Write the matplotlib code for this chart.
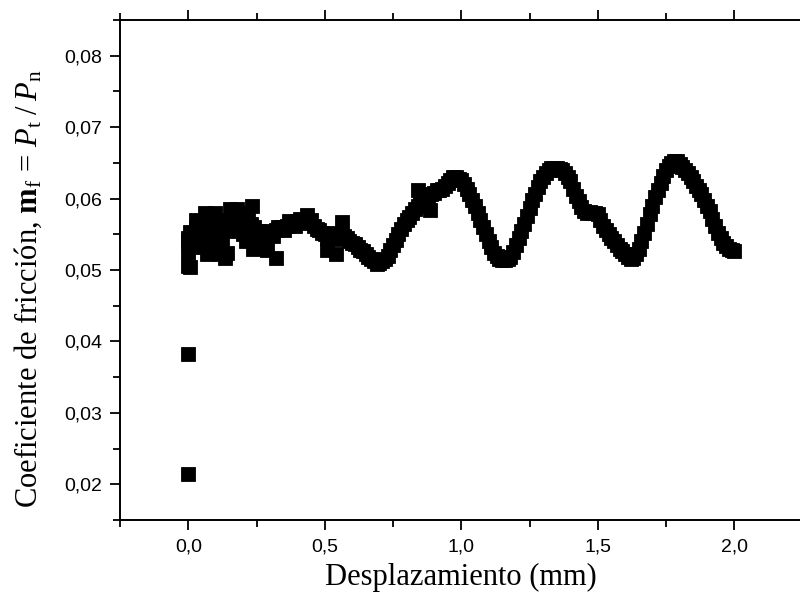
import numpy as np
import matplotlib
matplotlib.use("Agg")
import matplotlib.pyplot as plt
from matplotlib.ticker import MultipleLocator, FuncFormatter

plt.rcParams['font.family'] = 'Liberation Sans'
plt.rcParams['mathtext.fontset'] = 'custom'
plt.rcParams['mathtext.rm'] = 'Liberation Serif'
plt.rcParams['mathtext.it'] = 'Liberation Serif:italic'
plt.rcParams['mathtext.bf'] = 'Liberation Serif:bold'

# friction coefficient vs displacement (even hundredths)
desplazamiento = [
    0.00, 0.02, 0.04, 0.06, 0.08, 0.10, 0.12, 0.14, 0.16, 0.18,
    0.20, 0.22, 0.24, 0.26, 0.28, 0.30, 0.32, 0.34, 0.36, 0.38,
    0.40, 0.42, 0.44, 0.46, 0.48, 0.50, 0.52, 0.54, 0.56, 0.58,
    0.60, 0.62, 0.64, 0.66, 0.68, 0.70, 0.72, 0.74, 0.76, 0.78,
    0.80, 0.82, 0.84, 0.86, 0.88, 0.90, 0.92, 0.94, 0.96, 0.98,
    1.00, 1.02, 1.04, 1.06, 1.08, 1.10, 1.12, 1.14, 1.16, 1.18,
    1.20, 1.22, 1.24, 1.26, 1.28, 1.30, 1.32, 1.34, 1.36, 1.38,
    1.40, 1.42, 1.44, 1.46, 1.48, 1.50, 1.52, 1.54, 1.56, 1.58,
    1.60, 1.62, 1.64, 1.66, 1.68, 1.70, 1.72, 1.74, 1.76, 1.78,
    1.80, 1.82, 1.84, 1.86, 1.88, 1.90, 1.92, 1.94, 1.96, 1.98,
    2.00,
]
coef = [
    0.0540, 0.0550, 0.0555, 0.0548, 0.0560, 0.0552, 0.0562, 0.0558, 0.0565, 0.0568,
    0.0575, 0.0570, 0.0560, 0.0555, 0.0545, 0.0552, 0.0556, 0.0560, 0.0562, 0.0566,
    0.0568, 0.0570, 0.0568, 0.0562, 0.0556, 0.0550, 0.0548, 0.0548, 0.0550, 0.0545,
    0.0538, 0.0532, 0.0526, 0.0518, 0.0512, 0.0510, 0.0515, 0.0528, 0.0542, 0.0558,
    0.0570, 0.0580, 0.0590, 0.0598, 0.0604, 0.0608, 0.0612, 0.0618, 0.0626, 0.0630,
    0.0626, 0.0614, 0.0598, 0.0580, 0.0560, 0.0540, 0.0524, 0.0516, 0.0514, 0.0518,
    0.0535, 0.0555, 0.0576, 0.0598, 0.0616, 0.0630, 0.0640, 0.0643, 0.0642, 0.0636,
    0.0624, 0.0604, 0.0588, 0.0580, 0.0580, 0.0578, 0.0562, 0.0550, 0.0540, 0.0530,
    0.0522, 0.0516, 0.0522, 0.0540, 0.0565, 0.0590, 0.0612, 0.0632, 0.0646, 0.0652,
    0.0648, 0.0640, 0.0630, 0.0618, 0.0606, 0.0590, 0.0572, 0.0552, 0.0538, 0.0530,
    0.0527,
]

# odd hundredths
desplazamiento_b = [
    0.01, 0.03, 0.05, 0.07, 0.09, 0.11, 0.13, 0.15, 0.17, 0.19,
    0.21, 0.23, 0.25, 0.27, 0.29, 0.31, 0.33, 0.35, 0.37, 0.39,
    0.41, 0.43, 0.45, 0.47, 0.49, 0.51, 0.53, 0.55, 0.57, 0.59,
    0.61, 0.63, 0.65, 0.67, 0.69, 0.71, 0.73, 0.75, 0.77, 0.79,
    0.81, 0.83, 0.85, 0.87, 0.89, 0.91, 0.93, 0.95, 0.97, 0.99,
    1.01, 1.03, 1.05, 1.07, 1.09, 1.11, 1.13, 1.15, 1.17, 1.19,
    1.21, 1.23, 1.25, 1.27, 1.29, 1.31, 1.33, 1.35, 1.37, 1.39,
    1.41, 1.43, 1.45, 1.47, 1.49, 1.51, 1.53, 1.55, 1.57, 1.59,
    1.61, 1.63, 1.65, 1.67, 1.69, 1.71, 1.73, 1.75, 1.77, 1.79,
    1.81, 1.83, 1.85, 1.87, 1.89, 1.91, 1.93, 1.95, 1.97, 1.99,
]
coef_b = [
    0.0535, 0.0560, 0.0545, 0.0555, 0.0565, 0.0548, 0.0570, 0.0555, 0.0572, 0.0562,
    0.0580, 0.0565, 0.0555, 0.0548, 0.0555, 0.0548, 0.0560, 0.0556, 0.0568, 0.0562,
    0.0572, 0.0566, 0.0570, 0.0558, 0.0552, 0.0545, 0.0552, 0.0544, 0.0548, 0.0540,
    0.0536, 0.0528, 0.0522, 0.0515, 0.0508, 0.0512, 0.0520, 0.0535, 0.0550, 0.0565,
    0.0574, 0.0586, 0.0594, 0.0600, 0.0606, 0.0612, 0.0614, 0.0622, 0.0630, 0.0628,
    0.0620, 0.0606, 0.0590, 0.0570, 0.0550, 0.0532, 0.0520, 0.0514, 0.0515, 0.0525,
    0.0545, 0.0565, 0.0587, 0.0607, 0.0624, 0.0636, 0.0643, 0.0643, 0.0640, 0.0630,
    0.0614, 0.0596, 0.0583, 0.0581, 0.0580, 0.0570, 0.0556, 0.0545, 0.0535, 0.0526,
    0.0518, 0.0517, 0.0530, 0.0552, 0.0578, 0.0602, 0.0622, 0.0640, 0.0650, 0.0652,
    0.0644, 0.0636, 0.0624, 0.0612, 0.0598, 0.0582, 0.0562, 0.0545, 0.0534, 0.0528,
]

# scattered points around the trace (start-up noise and outliers)
extra_x = [0.000, 0.000, 0.000, 0.000, 0.000, 0.007, 0.007, 0.062, 0.099, 0.143,
           0.154, 0.234, 0.238, 0.070, 0.117, 0.136, 0.290, 0.320, 0.435, 0.510,
           0.540, 0.564, 0.843, 0.886, 0.030, 0.180, 0.210, 0.050, 0.090, 0.125,
           0.200, 0.260]
extra_y = [0.0215, 0.0382, 0.0505, 0.0525, 0.0545, 0.0504, 0.0553, 0.0580, 0.0580, 0.0524,
           0.0585, 0.0589, 0.0530, 0.0522, 0.0522, 0.0517, 0.0528, 0.0517, 0.0577, 0.0528,
           0.0522, 0.0567, 0.0612, 0.0584, 0.0570, 0.0585, 0.0540, 0.0532, 0.0535, 0.0540,
           0.0550, 0.0540]

fig = plt.figure(figsize=(8, 6.04), dpi=100)
ax = fig.add_axes([120 / 800, 1 - 520 / 604, 682.5 / 800, 500 / 604])

mk = dict(marker='s', linestyle='none', ms=9.5, mfc='black', mec='black', mew=0.6)
ax.plot(desplazamiento, coef, **mk)
ax.plot(desplazamiento_b, coef_b, **mk)
ax.plot(extra_x, extra_y, **mk)

ax.set_xlim(-0.25, 2.25)
ax.set_ylim(0.015, 0.085)
ax.xaxis.set_major_locator(MultipleLocator(0.5))
ax.xaxis.set_minor_locator(MultipleLocator(0.25))
ax.yaxis.set_major_locator(MultipleLocator(0.01))
ax.yaxis.set_minor_locator(MultipleLocator(0.005))
ax.xaxis.set_major_formatter(FuncFormatter(lambda v, p: f"{v:.1f}".replace('.', ',')))
ax.yaxis.set_major_formatter(FuncFormatter(lambda v, p: f"{v:.2f}".replace('.', ',')))

for s in ['left', 'bottom', 'top']:
    ax.spines[s].set_linewidth(1.4)
ax.spines['right'].set_visible(False)

ax.tick_params(which='both', direction='out', top=True, right=False, width=1.3,
               labelsize=14, labeltop=False)
ax.tick_params(which='major', length=7.5, pad=5.5)
ax.tick_params(which='minor', length=5)

ax.set_xlabel('Desplazamiento (mm)', fontfamily='Liberation Serif', fontsize=22, labelpad=6)
fig.text(28 / 800, 1 - 289 / 604,
         r'Coeficiente de fricción, $\mathbf{m}_{\mathrm{f}}\,=\,P_{\mathrm{t}}\;/\;P_{\mathrm{n}}$',
         rotation=90, ha='center', va='center', fontfamily='Liberation Serif', fontsize=22)

fig.savefig('out.png', dpi=100)
